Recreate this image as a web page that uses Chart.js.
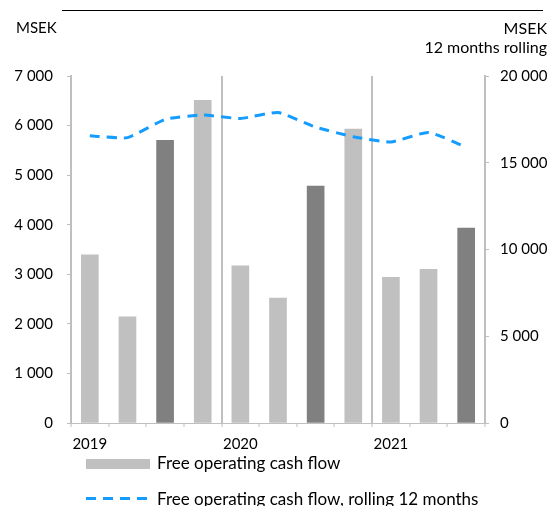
<!DOCTYPE html>
<html>
<head>
<meta charset="utf-8">
<script src="https://cdn.jsdelivr.net/npm/chart.js@4/dist/chart.umd.min.js"></script>
<style>
  body { margin: 0; background: #fff; font-family: Lato, sans-serif; }
  #wrap { position: relative; width: 549px; height: 506px; overflow: hidden; }
  .txt { position: absolute; font-size: 15px; color: #000; white-space: nowrap; line-height: 19px; }
  .leg { font-size: 17px; line-height: 20px; }
</style>
</head>
<body>
<div id="wrap">
  <canvas id="chart" width="549" height="506"></canvas>
  <div style="position:absolute;left:62px;top:10px;width:481px;height:1px;background:#000"></div>
  <div class="txt" style="left:16px;top:18px">MSEK</div>
  <div class="txt" style="right:2px;top:18px;text-align:right;font-size:16px">MSEK<br>12 months rolling</div>
  <!-- legend -->
  <div style="position:absolute;left:86px;top:459px;width:64px;height:10px;background:#c0c0c0"></div>
  <div class="txt leg" style="left:157px;top:453px">Free operating cash flow</div>
  <div style="position:absolute;left:86px;top:497px;width:62px;height:3px;background:repeating-linear-gradient(to right,#149cff 0 10px,transparent 10px 17px)"></div>
  <div class="txt leg" style="left:157px;top:489px">Free operating cash flow, rolling 12 months</div>
</div>
<script>
  // quarters 2019 Q1 .. 2021 Q3
  const quarters = ["2019 Q1", "2019 Q2", "2019 Q3", "2019 Q4",
                    "2020 Q1", "2020 Q2", "2020 Q3", "2020 Q4",
                    "2021 Q1", "2021 Q2", "2021 Q3"];
  const cashFlow = [3390, 2140, 5700, 6510, 3170, 2520, 4780, 5930, 2940, 3100, 3930]; // MSEK
  const rolling12 = [16550, 16450, 17500, 17750, 17550, 17900, 17050, 16500, 16200, 16750, 15900]; // MSEK
  const leftTicks = [0, 1000, 2000, 3000, 4000, 5000, 6000, 7000];
  const rightTicks = [0, 5000, 10000, 15000, 20000];

  const axisGrey = "#bfbfbf";
  Chart.defaults.font.family = "Lato, sans-serif";
  Chart.defaults.font.size = 15;
  Chart.defaults.color = "#000";

  const fmt = (v) => String(v).replace(/\B(?=(\d{3})+(?!\d))/g, " ");

  new Chart(document.getElementById("chart").getContext("2d"), {
    data: {
      labels: quarters,
      datasets: [
        {
          type: "line",
          label: "Free operating cash flow, rolling 12 months",
          data: rolling12,
          yAxisID: "y2",
          borderColor: "#149cff",
          borderWidth: 3,
          borderDash: [10, 7],
          pointRadius: 0,
          tension: 0.15,
          order: 0,
        },
        {
          type: "bar",
          label: "Free operating cash flow",
          data: cashFlow,
          yAxisID: "y",
          // third quarter of each year is drawn darker
          backgroundColor: (ctx) => (ctx.dataIndex % 4 === 2 ? "#808080" : "#c0c0c0"),
          barThickness: 17,
          order: 1,
        },
      ],
    },
    options: {
      responsive: false,
      animation: false,
      layout: { padding: { top: 76 } },
      plugins: { legend: { display: false }, tooltip: { enabled: false } },
      scales: {
        x: {
          offset: true,
          afterFit: (s) => { s.height = 83; },
          border: { color: axisGrey, width: 1 },
          grid: {
            offset: true,
            drawOnChartArea: true,
            color: (ctx) => (ctx.index === 4 || ctx.index === 8 ? axisGrey : "rgba(0,0,0,0)"),
            lineWidth: 2,
            tickColor: axisGrey,
            tickWidth: 1,
            tickLength: 4,
          },
          ticks: {
            autoSkip: false,
            maxRotation: 0,
            padding: 8,
            callback: function (v, i) {
              const q = quarters[i];
              return q.endsWith("Q1") ? q.slice(0, 4) : "";
            },
          },
        },
        y: {
          position: "left",
          min: 0,
          max: 7000,
          afterFit: (s) => { s.width = 71; },
          afterBuildTicks: (s) => { s.ticks = leftTicks.map((v) => ({ value: v })); },
          border: { color: axisGrey, width: 2 },
          grid: { drawOnChartArea: false, color: axisGrey, tickLength: 4 },
          ticks: { padding: 14, callback: (v) => fmt(v) },
        },
        y2: {
          position: "right",
          min: 0,
          max: 20000,
          afterFit: (s) => { s.width = 64; },
          afterBuildTicks: (s) => { s.ticks = rightTicks.map((v) => ({ value: v })); },
          border: { color: axisGrey, width: 2 },
          grid: { drawOnChartArea: false, color: axisGrey, tickLength: 4 },
          ticks: { padding: 11, callback: (v) => fmt(v) },
        },
      },
    },
  });
</script>
</body>
</html>
